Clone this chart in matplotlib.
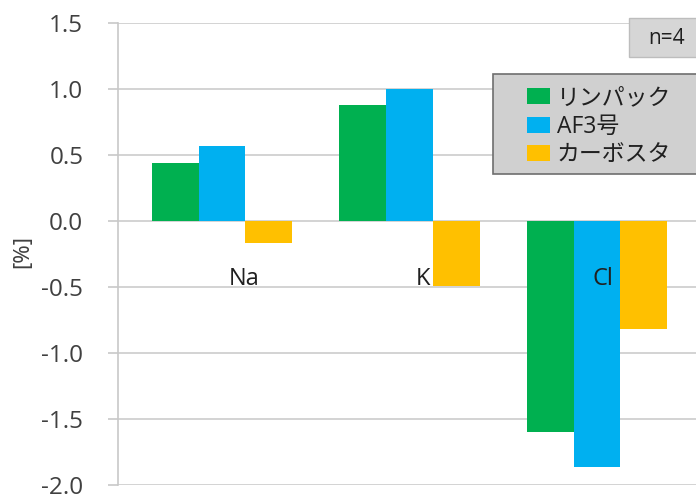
import numpy as np
import matplotlib
matplotlib.use("Agg")
import matplotlib.pyplot as plt
from matplotlib.patches import Rectangle

plt.rcParams['font.family'] = ['Open Sans', 'Noto Sans CJK JP', 'DejaVu Sans']

# データ
categories = ['Na', 'K', 'Cl']
series_names = ['リンパック', 'AF3号', 'カーボスタ']
linpack = [0.44, 0.88, -1.60]
af3 = [0.57, 1.00, -1.86]
carbosta = [-0.17, -0.49, -0.82]
colors = ['#00B050', '#00B0F0', '#FFC000']
yticks = [-2.0, -1.5, -1.0, -0.5, 0.0, 0.5, 1.0, 1.5]

fig = plt.figure(figsize=(6.96, 4.97), dpi=100)
ax = fig.add_axes([118 / 696, 1 - 485 / 497, 1 - 118 / 696, (485 - 23) / 497])

x = np.arange(len(categories))
w = 0.25
for i, (vals, name) in enumerate(zip([linpack, af3, carbosta], series_names)):
    ax.bar(x + (i - 1) * w, vals, w, color=colors[i], label=name, zorder=3)

ax.set_ylim(-2.0, 1.5)
ax.set_xlim(-0.555, 2.528)
ax.set_yticks(yticks)
ax.set_yticklabels(['%.1f' % v for v in yticks])
ax.grid(axis='y', color='#D0D0D0', linewidth=1.3, zorder=0)
ax.set_xticks([])
for s in ['top', 'right', 'bottom']:
    ax.spines[s].set_visible(False)
ax.spines['left'].set_color('#C8C8C8')
ax.spines['left'].set_linewidth(1.2)
ax.tick_params(axis='y', length=7, width=1.2, color='#C8C8C8', pad=18,
               labelsize=17.5, labelcolor='#404040')

# カテゴリ名
label_dx = [0.12, 0.07, 0.03]
for i, c in enumerate(categories):
    ax.text(x[i] + label_dx[i], -0.44, c, ha='center', va='center',
            fontsize=17, color='#202020', zorder=4)

fig.text(23 / 696, 1 - 251 / 497, '[%]', rotation=90, ha='center', va='center',
         fontsize=16, color='#404040', family=['Noto Sans', 'DejaVu Sans'])

# 凡例の枠
fig.patches.append(Rectangle((493 / 696, 1 - 174 / 497), 210 / 696, 100 / 497,
                             transform=fig.transFigure, facecolor='#D0D0D0',
                             edgecolor='#6E6E6E', linewidth=1.2, zorder=5))
leg = fig.legend(loc='upper left', bbox_to_anchor=(511 / 696, 1 - 70 / 497),
                 frameon=False, fontsize=16.5, handlelength=1.0, handleheight=0.7,
                 handletextpad=0.3, labelspacing=0.2, borderpad=0.2)
leg.set_zorder(6)
for t in leg.get_texts():
    t.set_color('#202020')

# n=4
fig.patches.append(Rectangle((629 / 696, 1 - 57 / 497), 80 / 696, 39 / 497,
                             transform=fig.transFigure, facecolor='#D6D6D6',
                             edgecolor='#BDBDBD', linewidth=1, zorder=5))
fig.text(667 / 696, 1 - 39 / 497, 'n=4', ha='center', va='center',
         fontsize=15, color='#202020', zorder=6)

fig.savefig('out.png', dpi=100)
